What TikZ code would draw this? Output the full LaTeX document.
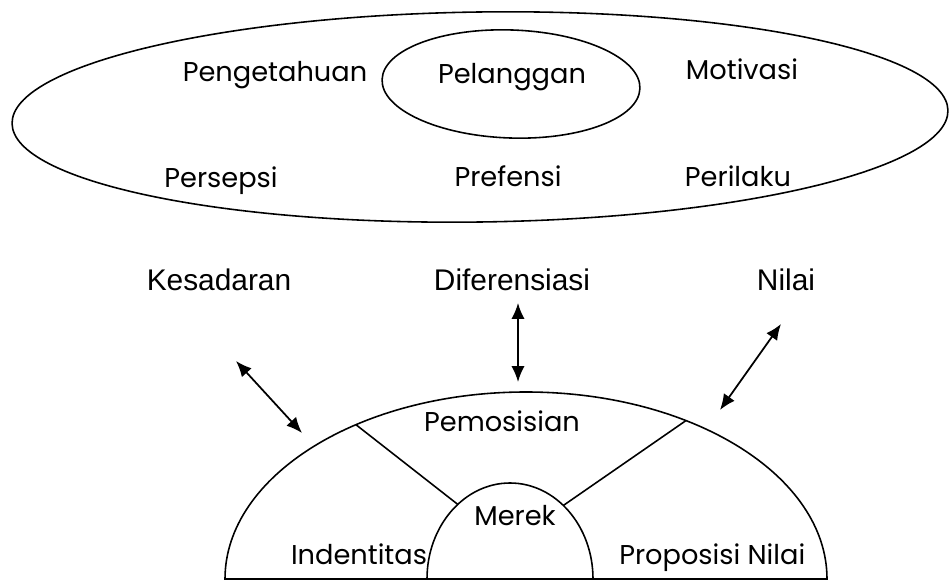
\documentclass[tikz,border=0pt]{standalone}
\usepackage{fontspec}
\setmainfont{Poppins}
\newfontfamily\arialfont{Liberation Sans}
\usetikzlibrary{arrows.meta,calc}

\begin{document}
\begin{tikzpicture}[x=0.02cm, y=0.02cm, line width=0.9pt,
    every node/.style={inner sep=0pt},
    kata/.style={font=\fontsize{15.5}{18}\selectfont, anchor=base},
    pilar/.style={font=\arialfont\fontsize{17}{20}\selectfont, anchor=base},
    panah/.style={line width=1pt, {Latex[length=9pt,width=7.5pt]}-{Latex[length=9pt,width=7.5pt]}}]
  \useasboundingbox (0,0) rectangle (949,581);
  % pelanggan
  \draw[rotate around={0.8:(480,464)}] (480,464) ellipse [x radius=468, y radius=105];
  \draw[rotate around={-2:(511,497)}] (511,497) ellipse [x radius=129, y radius=54];
  \node[kata] (pengetahuan) at (275,499) {Pengetahuan};
  \node[kata] (pelanggan) at (512,497) {Pelanggan};
  \node[kata] (motivasi) at (742,501) {Motivasi};
  \node[kata] (persepsi) at (221,393) {Persepsi};
  \node[kata] (prefensi) at (508,394) {Prefensi};
  \node[kata] (perilaku) at (738,394) {Perilaku};
  % pilar
  \node[pilar] (kesadaran) at (219,290) {Kesadaran};
  \node[pilar] (diferensiasi) at (512,290) {Diferensiasi};
  \node[pilar] (nilai) at (786,290) {Nilai};
  % merek
  \draw (225,2) arc [start angle=180, end angle=0, x radius=301, y radius=187] -- cycle;
  \draw (427,2) arc [start angle=180, end angle=0, x radius=83, y radius=96];
  \coordinate (luarkiri) at ($(526,2)+(124.4:301 and 187)$);
  \coordinate (luarkanan) at ($(526,2)+(57.9:301 and 187)$);
  \coordinate (dalamkiri) at ($(510,2)+(129:83 and 96)$);
  \coordinate (dalamkanan) at ($(510,2)+(50:83 and 96)$);
  \draw (luarkiri) -- (dalamkiri);
  \draw (luarkanan) -- (dalamkanan);
  \node[kata] (pemosisian) at (502,149) {Pemosisian};
  \node[kata] (merek) at (515,55) {Merek};
  \node[kata] (identitas) at (359,16) {Indentitas};
  \node[kata, anchor=base east] (proposisi) at (806,17) {Proposisi Nilai};
  % panah
  \coordinate (k1) at (236,220);
  \coordinate (k2) at (302,148);
  \coordinate (d1) at (518,278);
  \coordinate (d2) at (518,199);
  \coordinate (n1) at (781,257);
  \coordinate (n2) at (720,171);
  \draw[panah] (k1) -- (k2);
  \draw[panah] (d1) -- (d2);
  \draw[panah] (n1) -- (n2);
\end{tikzpicture}
\end{document}
